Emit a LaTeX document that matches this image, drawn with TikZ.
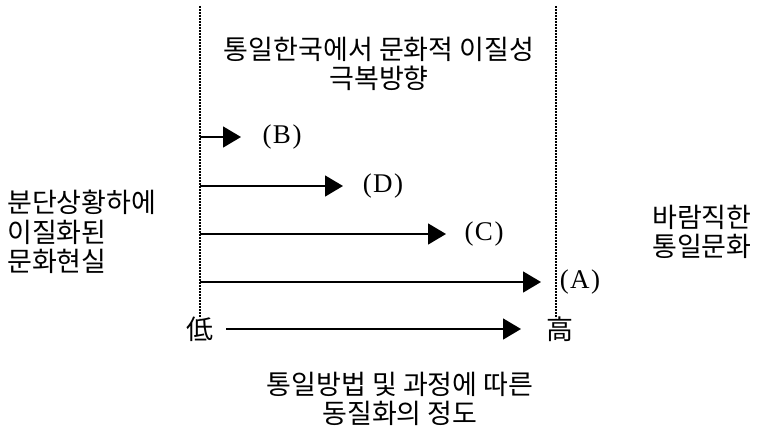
\documentclass[tikz,border=0pt]{standalone}
\usepackage{fontspec}
\setmainfont{Liberation Serif}
\newfontfamily\kr{Noto Sans CJK KR}
\usetikzlibrary{arrows.meta}
\tikzset{
  kor/.style={font=\kr\fontsize{27}{29.5}\selectfont, inner sep=0pt},
  lat/.style={font=\fontsize{27}{30}\selectfont, inner sep=0pt},
  guide/.style={dash pattern=on 1.6pt off 1.4pt, line width=1.3pt},
  arr/.style={line width=1.5pt, -{Triangle[length=18pt,width=21pt]}},
}
\newcommand{\lab}[1]{(\kern1.5pt #1\kern1.5pt)}
\begin{document}
\begin{tikzpicture}[x=1pt,y=-1pt]
\useasboundingbox (0,0) rectangle (757,436);
% guide lines
\coordinate (gl1) at (200,6);
\coordinate (gl2) at (200,318);
\coordinate (gr1) at (556,6);
\coordinate (gr2) at (556,318);
\draw[guide] (gl1) -- (gl2);
\draw[guide] (gr1) -- (gr2);
% title
\node[kor, align=center] (title) at (379,64) {통일한국에서 문화적 이질성\\극복방향};
% left / right texts
\node[kor, align=left, anchor=west] (left) at (7,232) {분단상황하에\\이질화된\\문화현실};
\node[kor, align=left, anchor=west] (right) at (652,232) {바람직한\\통일문화};
% arrows
\coordinate (bS) at (200,137); \coordinate (bT) at (241,137);
\coordinate (dS) at (200,186); \coordinate (dT) at (343,186);
\coordinate (cS) at (200,234); \coordinate (cT) at (446,234);
\coordinate (aS) at (200,282); \coordinate (aT) at (541,282);
\draw[arr] (bS) -- (bT);
\draw[arr] (dS) -- (dT);
\draw[arr] (cS) -- (cT);
\draw[arr] (aS) -- (aT);
\node[lat] (lB) at (282,137) {\lab{B}};
\node[lat] (lD) at (383,186) {\lab{D}};
\node[lat] (lC) at (484,234) {\lab{C}};
\node[lat] (lA) at (580,282) {\lab{A}};
% scale
\node[kor] (low) at (200,329) {低};
\node[kor] (high) at (560,329) {高};
\coordinate (sS) at (226,329); \coordinate (sT) at (521,329);
\draw[arr] (sS) -- (sT);
% bottom caption
\node[kor, align=center] (cap) at (400,399) {통일방법 및 과정에 따른\\동질화의 정도};
\end{tikzpicture}
\end{document}
